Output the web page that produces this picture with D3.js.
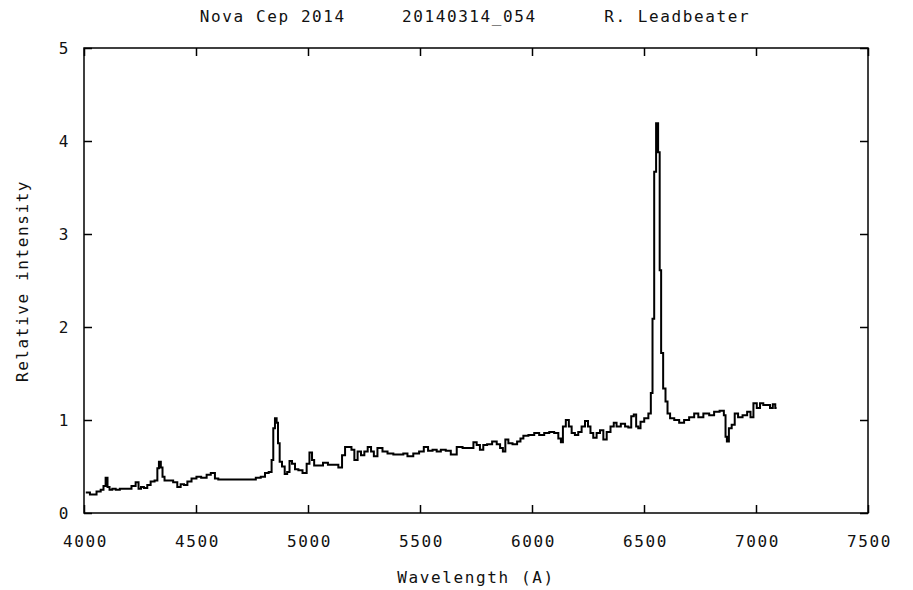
<!DOCTYPE html>
<html>
<head>
<meta charset="utf-8">
<script src="https://cdn.jsdelivr.net/npm/d3@7"></script>
<style>
  html, body { margin: 0; padding: 0; background: #fff; }
  svg { display: block; }
  text { font-family: "DejaVu Sans Mono", "Liberation Mono", monospace; font-size: 16px; letter-spacing: 1.6px; fill: #111; }
</style>
</head>
<body>
<svg id="chart" width="913" height="590"></svg>
<script>
const titleText = "Nova Cep 2014     20140314_054      R. Leadbeater";
const xLabel = "Wavelength (A)";
const yLabel = "Relative intensity";
const xTicks = [4000, 4500, 5000, 5500, 6000, 6500, 7000, 7500];
const yTicks = [0, 1, 2, 3, 4, 5];

const wavelength = [
  4008, 4045, 4067, 4082, 4092, 4101, 4109, 4119, 4134, 4149, 4171, 4201, 4223, 4238, 4249, 4260, 4275, 4290, 4305, 4325,
  4330, 4339, 4347, 4354, 4365, 4387, 4409, 4424, 4439, 4454, 4469, 4491, 4513, 4533, 4540, 4555, 4577, 4592, 4607, 4637,
  4667, 4711, 4756, 4778, 4800, 4816, 4833, 4842, 4848, 4857, 4863, 4869, 4878, 4890, 4902, 4912, 4923, 4934, 4950, 4964,
  4987, 5001, 5012, 5024, 5031, 5054, 5080, 5098, 5128, 5143, 5161, 5170, 5188, 5200, 5214, 5229, 5244, 5259, 5274, 5289,
  5299, 5321, 5344, 5366, 5396, 5418, 5433, 5455, 5485, 5507, 5527, 5545, 5567, 5582, 5604, 5626, 5649, 5679, 5701, 5731,
  5746, 5760, 5775, 5790, 5809, 5835, 5850, 5865, 5875, 5887, 5902, 5924, 5943, 5954, 5969, 5999, 6021, 6043, 6066, 6088,
  6110, 6125, 6133, 6143, 6159, 6170, 6184, 6199, 6214, 6229, 6244, 6256, 6266, 6281, 6296, 6311, 6326, 6341, 6360, 6370,
  6385, 6408, 6423, 6437, 6449, 6460, 6470, 6479, 6490, 6512, 6527, 6534, 6542, 6549, 6559, 6567, 6573, 6580, 6591, 6601,
  6609, 6624, 6646, 6668, 6690, 6713, 6735, 6750, 6780, 6802, 6824, 6851, 6862, 6866, 6874, 6884, 6899, 6911, 6929, 6951,
  6970, 6981, 6996, 7011, 7025, 7040, 7055, 7070, 7080, 7092
];
const intensity = [
  0.22, 0.20, 0.23, 0.25, 0.29, 0.38, 0.28, 0.25, 0.26, 0.25, 0.26, 0.26, 0.29, 0.33, 0.26, 0.28, 0.27, 0.30, 0.34, 0.35,
  0.48, 0.55, 0.49, 0.39, 0.35, 0.35, 0.33, 0.28, 0.31, 0.30, 0.34, 0.37, 0.39, 0.38, 0.38, 0.41, 0.43, 0.37, 0.36, 0.36,
  0.36, 0.36, 0.36, 0.38, 0.39, 0.43, 0.44, 0.57, 0.91, 1.02, 0.97, 0.75, 0.55, 0.50, 0.42, 0.44, 0.56, 0.53, 0.47, 0.46,
  0.43, 0.53, 0.65, 0.57, 0.51, 0.51, 0.54, 0.52, 0.52, 0.49, 0.62, 0.71, 0.71, 0.68, 0.57, 0.66, 0.62, 0.66, 0.71, 0.66,
  0.61, 0.70, 0.66, 0.64, 0.63, 0.63, 0.64, 0.61, 0.64, 0.66, 0.71, 0.67, 0.68, 0.66, 0.68, 0.67, 0.63, 0.71, 0.70, 0.70,
  0.76, 0.73, 0.68, 0.73, 0.74, 0.77, 0.74, 0.70, 0.66, 0.79, 0.75, 0.74, 0.77, 0.80, 0.83, 0.84, 0.86, 0.84, 0.86, 0.87,
  0.86, 0.80, 0.76, 0.93, 1.00, 0.93, 0.86, 0.84, 0.87, 0.93, 0.99, 0.93, 0.86, 0.81, 0.86, 0.89, 0.79, 0.87, 0.93, 0.97,
  0.93, 0.96, 0.93, 0.92, 1.04, 1.06, 0.93, 0.91, 0.98, 1.02, 1.07, 1.29, 2.09, 3.67, 4.19, 3.88, 2.61, 1.72, 1.34, 1.20,
  1.07, 1.02, 1.00, 0.97, 1.00, 1.03, 1.07, 1.03, 1.07, 1.05, 1.09, 1.10, 1.05, 0.82, 0.77, 0.91, 0.95, 1.07, 1.03, 1.05,
  1.09, 1.03, 1.18, 1.13, 1.18, 1.16, 1.16, 1.13, 1.17, 1.13
];

const margin = { left: 84, right: 913 - 868, top: 48, bottom: 590 - 513 };
const W = 913, H = 590;
const svg = d3.select("#chart");

const x = d3.scaleLinear().domain([4000, 7500]).range([margin.left, W - margin.right]);
const y = d3.scaleLinear().domain([0, 5]).range([H - margin.bottom, margin.top]);
const tickLen = 8;
const fmt = d3.format("d");

// Frame
svg.append("rect")
  .attr("x", x(4000)).attr("y", y(5))
  .attr("width", x(7500) - x(4000)).attr("height", y(0) - y(5))
  .attr("fill", "none").attr("stroke", "#000").attr("stroke-width", 1.5);

// Axes with inward ticks
const xb = svg.append("g").attr("transform", `translate(0,${y(0)})`)
  .call(d3.axisBottom(x).tickValues(xTicks).tickFormat(fmt).tickSizeInner(-tickLen).tickSizeOuter(0));
const xt = svg.append("g").attr("transform", `translate(0,${y(5)})`)
  .call(d3.axisTop(x).tickValues(xTicks).tickSizeInner(-tickLen).tickSizeOuter(0).tickFormat(""));
const yl = svg.append("g").attr("transform", `translate(${x(4000)},0)`)
  .call(d3.axisLeft(y).tickValues(yTicks).tickFormat(fmt).tickSizeInner(-tickLen).tickSizeOuter(0));
const yr = svg.append("g").attr("transform", `translate(${x(7500)},0)`)
  .call(d3.axisRight(y).tickValues(yTicks).tickSizeInner(-tickLen).tickSizeOuter(0).tickFormat(""));

[xb, xt, yl, yr].forEach(g => {
  g.select(".domain").remove();
  g.selectAll(".tick line").attr("stroke", "#000").attr("stroke-width", 1.5);
  g.selectAll("text").attr("font-family", null).attr("font-size", null).attr("fill", null);
});
xb.selectAll("text").attr("dy", null).attr("y", 34).attr("dx", "1px");
yl.selectAll("text").attr("dy", "0.35em").attr("x", -14);

// Spectrum
const line = d3.line()
  .x((d, i) => x(wavelength[i]))
  .y(d => y(d))
  .curve(d3.curveStep);
svg.append("path")
  .datum(intensity)
  .attr("d", line)
  .attr("fill", "none")
  .attr("stroke", "#000")
  .attr("stroke-width", 2)
  .attr("stroke-linejoin", "miter");

// Title and labels
svg.append("text").attr("x", 475).attr("y", 22).attr("text-anchor", "middle").attr("xml:space", "preserve")
  .style("white-space", "pre").text(titleText);
svg.append("text").attr("x", 476).attr("y", 583).attr("text-anchor", "middle").text(xLabel);
svg.append("text").attr("transform", `translate(28,281) rotate(-90)`).attr("text-anchor", "middle").text(yLabel);
</script>
</body>
</html>
